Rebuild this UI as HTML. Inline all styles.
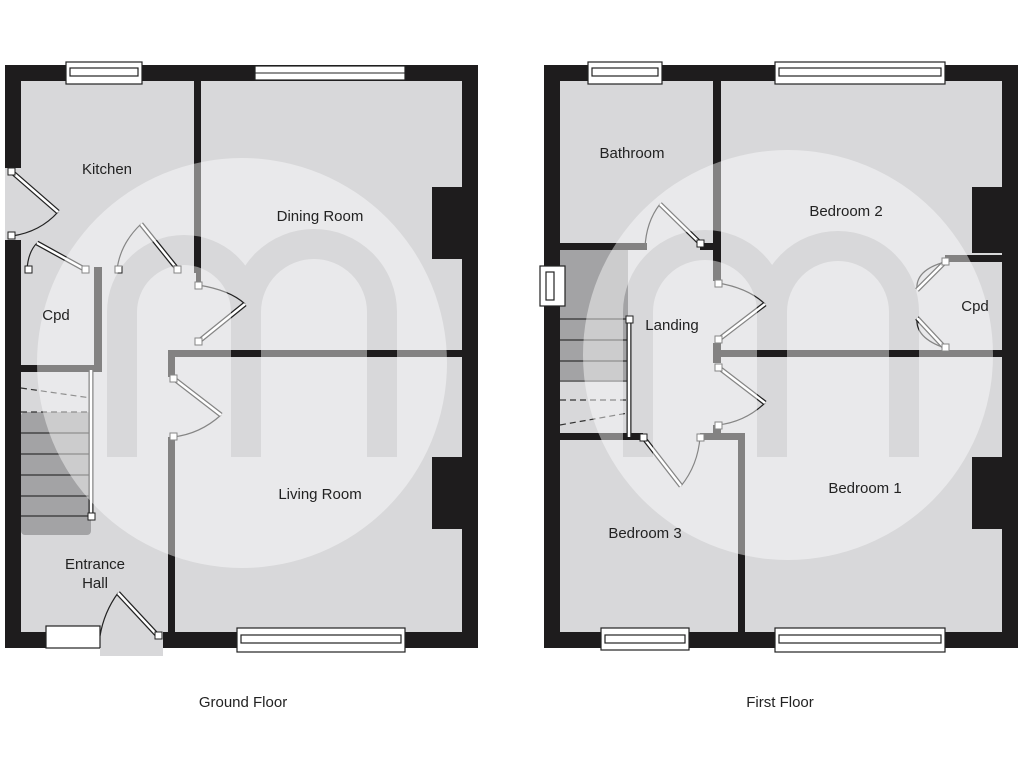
<!DOCTYPE html>
<html><head><meta charset="utf-8"><style>
html,body{margin:0;padding:0;background:#fff;}
svg{display:block;}
text{font-family:"Liberation Sans",sans-serif;fill:#222;}
</style></head><body>
<svg width="1024" height="768" viewBox="0 0 1024 768" xmlns="http://www.w3.org/2000/svg">
<defs>
<mask id="mg">
<rect x="0" y="0" width="1024" height="768" fill="black"/>
<circle cx="242" cy="363" r="205" fill="white"/>
<path d="M122 457 V312 A62 62 0 0 1 246 312 V457 M246 312 A68 68 0 0 1 382 312 V457" fill="none" stroke="black" stroke-width="30"/>
</mask>
<mask id="mf">
<rect x="0" y="0" width="1024" height="768" fill="black"/>
<circle cx="788" cy="355" r="205" fill="white"/>
<path d="M638 457 V312 A67 67 0 0 1 772 312 V457 M772 312 A66 66 0 0 1 904 312 V457" fill="none" stroke="black" stroke-width="30"/>
</mask>
</defs>
<g id="ground">
<rect x="5" y="65" width="473" height="583" fill="#d8d8da"/>
<!-- stairs -->
<rect x="21" y="412" width="70" height="123" rx="4" fill="#a3a3a5"/>
<g stroke="#333" stroke-width="1.2">
<line x1="21" y1="433" x2="91" y2="433"/><line x1="21" y1="454" x2="91" y2="454"/><line x1="21" y1="475" x2="91" y2="475"/><line x1="21" y1="496" x2="91" y2="496"/><line x1="21" y1="516" x2="91" y2="516"/>
</g>
<g stroke="#333" stroke-width="1.2" stroke-dasharray="6 4">
<line x1="21" y1="412" x2="91" y2="412"/><line x1="21" y1="388" x2="91" y2="398"/>
</g>
<!-- walls -->
<g fill="#1e1c1d">
<rect x="5" y="65" width="473" height="16"/>
<rect x="5" y="65" width="16" height="103"/>
<rect x="5" y="240" width="16" height="408"/>
<rect x="462" y="65" width="16" height="583"/>
<rect x="5" y="632" width="95" height="16"/>
<rect x="163" y="632" width="315" height="16"/>
<rect x="194" y="81" width="7" height="191"/>
<rect x="94" y="267" width="8" height="6"/>
<rect x="94" y="267" width="8" height="105"/>
<rect x="21" y="365" width="81" height="7"/>
<rect x="194" y="267" width="7" height="6"/>
<rect x="168" y="350" width="294" height="7"/>
<rect x="168" y="350" width="7" height="27"/>
<rect x="168" y="437" width="7" height="195"/>
<rect x="196" y="265" width="5" height="20"/>
<rect x="432" y="187" width="30" height="72"/>
<rect x="432" y="457" width="30" height="72"/>
</g>
<!-- windows -->
<g fill="#fff" stroke="#222" stroke-width="1.2">
<rect x="66" y="62" width="76" height="22"/>
<rect x="70" y="68" width="68" height="8"/>
<rect x="255" y="66" width="150" height="14"/>
<rect x="46" y="626" width="54" height="22"/>
<rect x="237" y="628" width="168" height="24"/>
<rect x="241" y="635" width="160" height="8"/>
</g>
<line x1="255" y1="73" x2="405" y2="73" stroke="#222"/>
<!-- entrance -->
<rect x="100" y="648" width="63" height="8" fill="#d8d8da"/>
<!-- doors -->
<g fill="none" stroke="#222" stroke-width="1.2">
<path d="M58 212 Q40 232 12 236"/>
<path d="M37 243 Q28 252 27 270"/>
<path d="M141 224 Q120 244 117 270"/>
<path d="M198 285 Q230 290 245 304"/>
<path d="M221 415 Q200 434 173 437"/>
<path d="M118 593 Q104 612 100 636"/>
</g>
<g stroke="#222" stroke-width="5"><line x1="12" y1="172" x2="58" y2="212"/><line x1="86" y1="270" x2="37" y2="243"/><line x1="178" y1="270" x2="141" y2="224"/><line x1="198" y1="342" x2="245" y2="304"/><line x1="173" y1="378" x2="221" y2="415"/><line x1="158" y1="636" x2="118" y2="593"/><line x1="91" y1="370" x2="91" y2="517"/></g>
<g stroke="#fff" stroke-width="2.5"><line x1="12" y1="172" x2="58" y2="212"/><line x1="86" y1="270" x2="37" y2="243"/><line x1="178" y1="270" x2="141" y2="224"/><line x1="198" y1="342" x2="245" y2="304"/><line x1="173" y1="378" x2="221" y2="415"/><line x1="158" y1="636" x2="118" y2="593"/><line x1="91" y1="370" x2="91" y2="517"/></g>
<g fill="#fff" stroke="#222" stroke-width="1">
<rect x="8" y="168" width="7" height="7"/><rect x="8" y="232" width="7" height="7"/><rect x="82" y="266" width="7" height="7"/><rect x="25" y="266" width="7" height="7"/><rect x="115" y="266" width="7" height="7"/><rect x="174" y="266" width="7" height="7"/><rect x="195" y="282" width="7" height="7"/><rect x="195" y="338" width="7" height="7"/><rect x="170" y="375" width="7" height="7"/><rect x="170" y="433" width="7" height="7"/><rect x="155" y="632" width="7" height="7"/><rect x="88" y="513" width="7" height="7"/>
</g>
<rect x="0" y="0" width="500" height="768" fill="#fff" fill-opacity="0.45" mask="url(#mg)"/>
<g font-size="15" text-anchor="middle">
<text x="107" y="174">Kitchen</text>
<text x="320" y="221" fill="#444">Dining Room</text>
<text x="56" y="320" fill="#444">Cpd</text>
<text x="320" y="499" fill="#444">Living Room</text>
<text x="95" y="569">Entrance</text>
<text x="95" y="588">Hall</text>
<text x="243" y="707">Ground Floor</text>
</g>
</g>
<g id="first">
<rect x="544" y="65" width="474" height="583" fill="#d8d8da"/>
<rect x="560" y="250" width="68" height="130" fill="#a3a3a5"/>
<g stroke="#333" stroke-width="1.2">
<line x1="560" y1="319" x2="628" y2="319"/><line x1="560" y1="340" x2="628" y2="340"/><line x1="560" y1="361" x2="628" y2="361"/><line x1="560" y1="381" x2="628" y2="381"/>
</g>
<g stroke="#333" stroke-width="1.2" stroke-dasharray="6 4">
<line x1="560" y1="400" x2="628" y2="400"/><line x1="560" y1="425" x2="628" y2="413"/>
</g>
<g fill="#1e1c1d">
<rect x="544" y="65" width="474" height="16"/>
<rect x="544" y="65" width="16" height="583"/>
<rect x="1002" y="65" width="16" height="583"/>
<rect x="544" y="632" width="474" height="16"/>
<rect x="713" y="81" width="8" height="168"/>
<rect x="560" y="243" width="87" height="7"/>
<rect x="700" y="243" width="21" height="7"/>
<rect x="713" y="243" width="8" height="38"/>
<rect x="718" y="350" width="284" height="7"/>
<rect x="713" y="343" width="8" height="20"/>
<rect x="945" y="255" width="57" height="7"/>
<rect x="560" y="433" width="83" height="7"/>
<rect x="700" y="433" width="45" height="7"/>
<rect x="738" y="433" width="7" height="199"/>
<rect x="713" y="425" width="8" height="15"/>
<rect x="972" y="187" width="30" height="66"/>
<rect x="972" y="457" width="30" height="72"/>
</g>
<g fill="#fff" stroke="#222" stroke-width="1.2">
<rect x="588" y="62" width="74" height="22"/>
<rect x="592" y="68" width="66" height="8"/>
<rect x="775" y="62" width="170" height="22"/>
<rect x="779" y="68" width="162" height="8"/>
<rect x="540" y="266" width="25" height="40"/>
<rect x="546" y="272" width="8" height="28"/>
<rect x="601" y="628" width="88" height="22"/>
<rect x="605" y="635" width="80" height="8"/>
<rect x="775" y="628" width="170" height="24"/>
<rect x="779" y="635" width="162" height="8"/>
</g>
<g fill="none" stroke="#222" stroke-width="1.2">
<path d="M660 204 Q646 222 645 248"/>
<path d="M718 283 Q748 288 765 304"/>
<path d="M765 403 Q745 422 718 425"/>
<path d="M681 486 Q698 465 700 437"/>
<path d="M917 290 Q915 270 945 262"/>
<path d="M917 318 Q915 338 945 348"/>
</g>
<g stroke="#222" stroke-width="5"><line x1="700" y1="243" x2="660" y2="204"/><line x1="718" y1="340" x2="765" y2="304"/><line x1="718" y1="367" x2="765" y2="403"/><line x1="643" y1="437" x2="681" y2="486"/><line x1="945" y1="262" x2="917" y2="290"/><line x1="945" y1="348" x2="917" y2="318"/><line x1="629" y1="320" x2="629" y2="437"/></g>
<g stroke="#fff" stroke-width="2.5"><line x1="700" y1="243" x2="660" y2="204"/><line x1="718" y1="340" x2="765" y2="304"/><line x1="718" y1="367" x2="765" y2="403"/><line x1="643" y1="437" x2="681" y2="486"/><line x1="945" y1="262" x2="917" y2="290"/><line x1="945" y1="348" x2="917" y2="318"/><line x1="629" y1="320" x2="629" y2="437"/></g>
<g fill="#fff" stroke="#222" stroke-width="1">
<rect x="697" y="240" width="7" height="7"/><rect x="715" y="280" width="7" height="7"/><rect x="715" y="336" width="7" height="7"/><rect x="715" y="364" width="7" height="7"/><rect x="715" y="422" width="7" height="7"/><rect x="640" y="434" width="7" height="7"/><rect x="697" y="434" width="7" height="7"/><rect x="626" y="316" width="7" height="7"/><rect x="942" y="258" width="7" height="7"/><rect x="942" y="344" width="7" height="7"/>
</g>
<rect x="520" y="0" width="504" height="768" fill="#fff" fill-opacity="0.45" mask="url(#mf)"/>
<g font-size="15" text-anchor="middle">
<text x="632" y="158">Bathroom</text>
<text x="846" y="216" fill="#444">Bedroom 2</text>
<text x="672" y="330">Landing</text>
<text x="975" y="311" fill="#444">Cpd</text>
<text x="865" y="493" fill="#444">Bedroom 1</text>
<text x="645" y="538">Bedroom 3</text>
<text x="780" y="707">First Floor</text>
</g>
</g>
</svg>
</body></html>
